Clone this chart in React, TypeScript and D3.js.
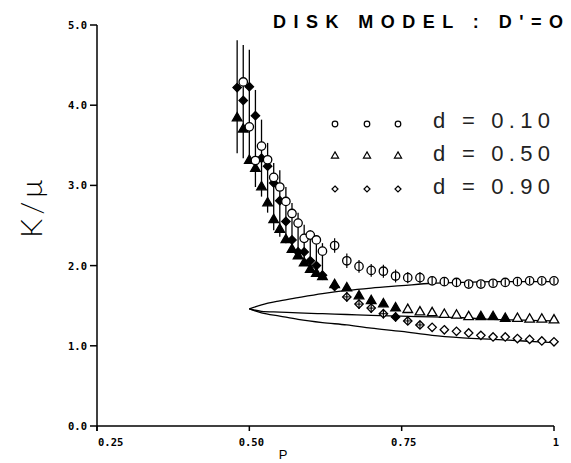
import React from "react";
import * as d3 from "d3";

// p values of the simulation points
const pValues = [
  0.48, 0.49, 0.5, 0.51, 0.52, 0.53, 0.54, 0.55, 0.56, 0.57, 0.58, 0.59, 0.6, 0.61, 0.62,
  0.64, 0.66, 0.68, 0.7, 0.72, 0.74, 0.76, 0.78, 0.8, 0.82, 0.84, 0.86, 0.88, 0.9, 0.92, 0.94, 0.96, 0.98, 1.0,
];
// d = 0.10 (circles)
const seriesD10 = [
  null, 4.29, 3.73, 3.31, 3.49, 3.32, 3.1, 2.98, 2.8, 2.65, 2.53, 2.34, 2.38, 2.32, 2.18,
  2.25, 2.06, 1.99, 1.94, 1.93, 1.87, 1.85, 1.85, 1.81, 1.8, 1.79, 1.77, 1.77, 1.78, 1.79, 1.8, 1.81, 1.81, 1.81,
];
// d = 0.50 (triangles)
const seriesD50 = [
  3.84, 3.7, 3.31, 3.21, 2.98, 2.78, 2.57, 2.45, 2.32, 2.2, 2.12, 2.03, 1.95, 1.9, 1.86,
  1.76, 1.72, 1.62, 1.56, 1.52, 1.47, 1.45, 1.42, 1.41, 1.39, 1.38, 1.36, 1.36, 1.36, 1.34, 1.34, 1.33, 1.33, 1.32,
];
// d = 0.90 (diamonds)
const seriesD90 = [
  4.22, 4.06, 4.23, 3.87, 3.34, 3.24, 3.03, 2.81, 2.55, 2.32, 2.17, 2.17, 2.06, 2.0, 1.88,
  1.74, 1.61, 1.52, 1.47, 1.4, 1.36, 1.31, 1.26, 1.23, 1.2, 1.18, 1.16, 1.13, 1.11, 1.11, 1.09, 1.08, 1.06, 1.05,
];
// large error bars near threshold (low / high)
const errLow = [
  3.4, 3.34, 3.32, 2.98, 2.86, 2.66, 2.44, 2.36, 2.28, 2.16, 2.11, 2.04, 2.01, 1.95, 1.85,
];
const errHigh = [
  4.81, 4.75, 4.69, 4.19, 3.82, 3.53, 3.28, 3.19, 2.98, 2.78, 2.66, 2.51, 2.44, 2.38, 2.28,
];
// small error half-widths on the circles beyond the cluster
const circleErr = [0.09, 0.09, 0.08, 0.08, 0.08, 0.08, 0.07, 0.07, 0.05, 0.05, 0.05, 0.04, 0.04, 0.04, 0.04, 0.04, 0.04, 0.04, 0.04];
const diamondErr = [0.06, 0.06, 0.06, 0.06, 0.06, 0.05, 0.05];

// theory curves
const fitP = [0.5, 0.52, 0.55, 0.58, 0.62, 0.66, 0.7, 0.75, 0.8, 0.85, 0.9, 0.95, 1.0];
const fitUpper = [1.46, 1.51, 1.56, 1.6, 1.65, 1.69, 1.72, 1.75, 1.78, 1.79, 1.8, 1.8, 1.8];
const fitMiddle = [1.46, 1.43, 1.42, 1.41, 1.4, 1.39, 1.38, 1.37, 1.36, 1.35, 1.33, 1.32, 1.31];
const fitLower = [1.46, 1.41, 1.37, 1.33, 1.29, 1.26, 1.22, 1.18, 1.13, 1.1, 1.08, 1.06, 1.04];

const yTicks = [0, 1, 2, 3, 4, 5];
const xTicks = [0.25, 0.5, 0.75, 1];
const xTickLabels = ["0.25", "0.50", "0.75", "1"];
const legendLabels = ["d = 0.10", "d = 0.50", "d = 0.90"];
const titleText = "DISK MODEL : D'=O";

const W = 571;
const H = 463;

export default function App() {
  const x = d3.scaleLinear().domain([0.25, 1]).range([97, 554]);
  const y = d3.scaleLinear().domain([0, 5]).range([426, 25]);
  const line = d3
    .line<[number, number]>()
    .x((d) => x(d[0]))
    .y((d) => y(d[1]))
    .curve(d3.curveMonotoneX);

  const tri = d3.symbol().type(d3.symbolTriangle).size(40)() as string;
  const triSmall = d3.symbol().type(d3.symbolTriangle).size(22)() as string;
  const diamond = (r: number) => `M0,${-r}L${r},0L0,${r}L${-r},0Z`;

  const nCluster = errLow.length;
  const ink = "#000";

  return (
    <svg
      width={W}
      height={H}
      style={{ position: "absolute", left: 0, top: 0, background: "#fff" }}
      fontFamily="'Liberation Sans', Arial, sans-serif"
    >
      <rect width={W} height={H} fill="#fff" />
      {/* axes */}
      <line x1={x(0.25)} x2={x(0.25)} y1={y(5)} y2={y(0) + 5} stroke={ink} strokeWidth={1.5} />
      <line x1={x(0.25)} x2={x(1)} y1={y(0)} y2={y(0)} stroke={ink} strokeWidth={1.5} />
      {yTicks.map((t) => (
        <g key={"yt" + t}>
          <line x1={x(0.25) - 7} x2={x(0.25)} y1={y(t)} y2={y(t)} stroke={ink} strokeWidth={1.5} />
          <text
            x={x(0.25) - 10}
            y={y(t) + 4}
            textAnchor="end"
            fontFamily="'DejaVu Sans Mono', monospace"
            fontWeight="bold"
            fontSize={10.5}
            fill={ink}
          >
            {d3.format(".1f")(t)}
          </text>
        </g>
      ))}
      {xTicks.map((t, i) => (
        <g key={"xt" + t}>
          <line x1={x(t)} x2={x(t)} y1={y(0)} y2={y(0) + 5} stroke={ink} strokeWidth={1.5} />
          <text
            x={i === 0 ? x(t) + 1 : x(t) + 2}
            y={446}
            textAnchor={i === 0 ? "start" : "middle"}
            fontFamily="'DejaVu Sans Mono', monospace"
            fontWeight="bold"
            fontSize={10.5}
            fill={ink}
          >
            {xTickLabels[i]}
          </text>
        </g>
      ))}
      <text x={283} y={459} textAnchor="middle" fontSize={13} fill={ink}>
        P
      </text>
      <text
        transform="translate(42,207) rotate(-90)"
        textAnchor="middle"
        fontSize={30}
        fontWeight={300}
        fontFamily="'Lato', 'Liberation Sans', sans-serif"
        fill={ink}
        letterSpacing={4}
      >
        K/μ
      </text>

      {/* title */}
      <text
        x={273}
        y={28}
        fontSize={18}
        fontWeight="bold"
        fontFamily="'Liberation Sans', sans-serif"
        fill={ink}
        textLength={290}
        lengthAdjust="spacing"
      >
        {titleText}
      </text>

      {/* theory curves */}
      {[fitUpper, fitMiddle, fitLower].map((s, k) => (
        <path
          key={"fit" + k}
          d={line(fitP.map((p, i) => [p, s[i]] as [number, number])) as string}
          fill="none"
          stroke={ink}
          strokeWidth={1.3}
        />
      ))}

      {/* large error bars */}
      {errLow.map((lo, i) => (
        <line
          key={"eb" + i}
          x1={x(pValues[i])}
          x2={x(pValues[i])}
          y1={y(lo)}
          y2={y(errHigh[i])}
          stroke={ink}
          strokeWidth={1.3}
        />
      ))}

      {/* triangles d=0.50 */}
      {seriesD50.map((v, i) =>
        v == null ? null : (
          <path
            key={"t" + i}
            d={tri}
            transform={`translate(${x(pValues[i])},${y(v)})`}
            fill={pValues[i] <= 0.745 || (pValues[i] >= 0.875 && pValues[i] <= 0.925) ? ink : "#fff"}
            stroke={ink}
            strokeWidth={1.3}
          />
        )
      )}
      {/* diamonds d=0.90 */}
      {seriesD90.map((v, i) => {
        if (v == null) return null;
        const cx = x(pValues[i]);
        const cy = y(v);
        const j = i - nCluster - 1;
        const e = j >= 0 && j < diamondErr.length ? diamondErr[j] : 0;
        return (
          <g key={"d" + i}>
            <path
              d={diamond(4.2)}
              transform={`translate(${cx},${cy})`}
              fill={pValues[i] <= 0.645 || Math.abs(pValues[i] - 0.74) < 0.005 ? ink : "#fff"}
              stroke={ink}
              strokeWidth={1.3}
            />
            {e > 0 && <line x1={cx} x2={cx} y1={y(v - e)} y2={y(v + e)} stroke={ink} strokeWidth={1.2} />}
            {e > 0 && <line x1={cx - 4} x2={cx + 4} y1={cy} y2={cy} stroke={ink} strokeWidth={1} />}
          </g>
        );
      })}
      {/* circles d=0.10 */}
      {seriesD10.map((v, i) => {
        if (v == null) return null;
        const cx = x(pValues[i]);
        const cy = y(v);
        const j = i - nCluster;
        const e = j >= 0 ? circleErr[j] : 0;
        return (
          <g key={"c" + i}>
            <circle cx={cx} cy={cy} r={4.2} fill="#fff" stroke={ink} strokeWidth={1.3} />
            {e > 0 && <line x1={cx} x2={cx} y1={y(v - e)} y2={y(v + e)} stroke={ink} strokeWidth={1.2} />}
          </g>
        );
      })}

      {/* legend */}
      {legendLabels.map((lab, k) => {
        const rowY = [124, 156, 189][k];
        const baseY = [128, 161, 194][k];
        return (
          <g key={"lg" + k}>
            {[335, 367, 398].map((sx) =>
              k === 0 ? (
                <circle key={sx} cx={sx} cy={rowY} r={2.8} fill="#fff" stroke={ink} strokeWidth={1.2} />
              ) : k === 1 ? (
                <path key={sx} d={triSmall} transform={`translate(${sx},${rowY})`} fill="#fff" stroke={ink} strokeWidth={1.2} />
              ) : (
                <path key={sx} d={diamond(3)} transform={`translate(${sx},${rowY})`} fill="#fff" stroke={ink} strokeWidth={1.2} />
              )
            )}
            <text
              x={433}
              y={baseY}
              fontSize={22}
              fontFamily="'Liberation Sans', sans-serif"
              fill="#222"
              textLength={117}
              lengthAdjust="spacing"
            >
              {lab}
            </text>
          </g>
        );
      })}
    </svg>
  );
}
